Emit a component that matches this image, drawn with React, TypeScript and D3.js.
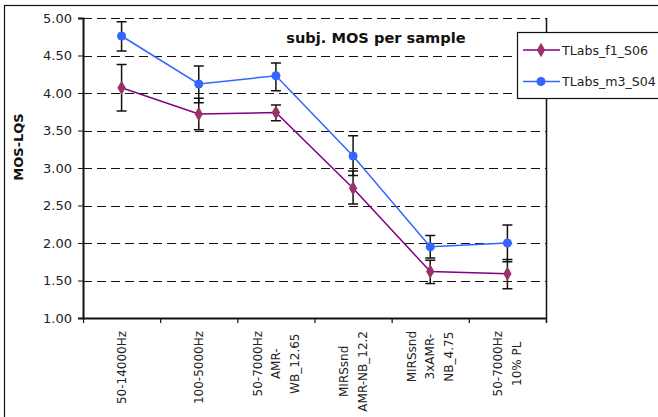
import * as d3 from 'd3';
import { useEffect, useRef } from 'react';

const categories = [
  ['50-14000Hz'],
  ['100-5000Hz'],
  ['50-7000Hz', 'AMR-', 'WB_12.65'],
  ['MIRSsnd', 'AMR-NB_12.2'],
  ['MIRSsnd', '3xAMR-', 'NB_4.75'],
  ['50-7000Hz', '10% PL'],
];

const f1Mean = [4.07, 3.72, 3.74, 2.73, 1.62, 1.59];
const f1Low = [3.76, 3.51, 3.63, 2.52, 1.46, 1.39];
const f1High = [4.38, 3.93, 3.84, 2.96, 1.77, 1.78];

const m3Mean = [4.76, 4.12, 4.23, 3.16, 1.95, 2.0];
const m3Low = [4.56, 3.87, 4.03, 2.9, 1.8, 1.75];
const m3High = [4.95, 4.36, 4.4, 3.43, 2.1, 2.24];

const yTicks = [1.0, 1.5, 2.0, 2.5, 3.0, 3.5, 4.0, 4.5, 5.0];

const title = 'subj. MOS per sample';
const yAxisLabel = 'MOS-LQS';
const names = ['TLabs_f1_S06', 'TLabs_m3_S04'];

const W = 658;
const H = 417;
const plot = { left: 83, right: 546, top: 18, bottom: 318 };
const font = "'DejaVu Sans', Verdana, sans-serif";

const purpleLine = '#800080';
const purpleMark = '#993366';
const blue = '#3366ff';

export default function App() {
  const ref = useRef<SVGSVGElement>(null);

  useEffect(() => {
    const svg = d3.select(ref.current);
    svg.selectAll('*').remove();

    const x = d3
      .scaleBand<number>()
      .domain(categories.map((_, i) => i))
      .range([plot.left, plot.right]);
    const y = d3.scaleLinear().domain([1, 5]).range([plot.bottom, plot.top]);
    const cx = (i: number) => x(i)! + x.bandwidth() / 2;

    svg.append('rect').attr('width', W).attr('height', H).attr('fill', '#fff');

    // outer chart frame (runs past the right and bottom edges)
    svg
      .append('rect')
      .attr('x', 4.5)
      .attr('y', 5.5)
      .attr('width', 700)
      .attr('height', 500)
      .attr('fill', 'none')
      .attr('stroke', '#111')
      .attr('stroke-width', 1.2);

    // dashed gridlines
    svg
      .append('g')
      .selectAll('line')
      .data(yTicks.slice(1))
      .enter()
      .append('line')
      .attr('x1', plot.left)
      .attr('x2', plot.right)
      .attr('y1', (d) => Math.round(y(d)) + 0.5)
      .attr('y2', (d) => Math.round(y(d)) + 0.5)
      .attr('stroke', '#111')
      .attr('stroke-dasharray', '9,5');

    // right border of the plot area
    svg
      .append('line')
      .attr('x1', plot.right + 0.5)
      .attr('x2', plot.right + 0.5)
      .attr('y1', plot.top)
      .attr('y2', plot.bottom + 5)
      .attr('stroke', '#111')
      .attr('stroke-width', 1.5);

    // y axis
    const yAxis = svg
      .append('g')
      .attr('transform', `translate(${plot.left},0)`)
      .call(
        d3
          .axisLeft(y)
          .tickValues(yTicks)
          .tickFormat(d3.format('.2f'))
          .tickSize(5)
          .tickPadding(6)
      );
    yAxis.select('.domain').attr('stroke', '#111').attr('stroke-width', 2);
    yAxis.selectAll('.tick line').attr('stroke', '#111');
    yAxis
      .selectAll('.tick text')
      .attr('fill', '#222')
      .style('font-family', font)
      .style('font-size', '13px');

    // x axis: ticks at category boundaries
    svg
      .append('line')
      .attr('x1', plot.left)
      .attr('x2', plot.right + 1)
      .attr('y1', plot.bottom + 0.5)
      .attr('y2', plot.bottom + 0.5)
      .attr('stroke', '#111')
      .attr('stroke-width', 2);
    svg
      .append('g')
      .selectAll('line')
      .data(categories.map((_, i) => i))
      .enter()
      .append('line')
      .attr('x1', (i) => x(i)! + 0.5)
      .attr('x2', (i) => x(i)! + 0.5)
      .attr('y1', plot.bottom)
      .attr('y2', plot.bottom + 5)
      .attr('stroke', '#111')
      .attr('stroke-width', 1.2);

    // rotated multi-line category labels
    const lineGap = 18.5;
    categories.forEach((lines, i) => {
      const g = svg.append('g');
      const texts = lines.map((l) =>
        g
          .append('text')
          .attr('text-anchor', 'middle')
          .attr('dy', '0.35em')
          .style('font-family', font)
          .style('font-size', '12px')
          .attr('fill', '#222')
          .text(l)
      );
      const maxLen = d3.max(texts, (t) => (t.node() as SVGTextElement).getComputedTextLength())!;
      const yc = 331 + maxLen / 2;
      texts.forEach((t, j) => {
        const xo = cx(i) + (j - (lines.length - 1) / 2) * lineGap;
        t.attr('transform', `translate(${xo},${yc}) rotate(-90)`);
      });
    });

    // series
    const series = [
      { mean: f1Mean, low: f1Low, high: f1High, line: purpleLine, mark: purpleMark, shape: d3.symbolDiamond, size: 60 },
      { mean: m3Mean, low: m3Low, high: m3High, line: blue, mark: blue, shape: d3.symbolCircle, size: 64 },
    ];

    const line = d3
      .line<number>()
      .x((_, i) => cx(i))
      .y((d) => y(d));

    series.forEach((s) => {
      svg
        .append('path')
        .datum(s.mean)
        .attr('d', line)
        .attr('fill', 'none')
        .attr('stroke', s.line)
        .attr('stroke-width', 1.5);
    });

    // error bars
    series.forEach((s) => {
      const eb = svg.append('g').attr('stroke', '#111').attr('stroke-width', 1.5);
      s.mean.forEach((_, i) => {
        const xc = cx(i);
        eb.append('line').attr('x1', xc).attr('x2', xc).attr('y1', y(s.low[i])).attr('y2', y(s.high[i]));
        [s.low[i], s.high[i]].forEach((v) => {
          eb.append('line').attr('x1', xc - 5).attr('x2', xc + 5).attr('y1', y(v)).attr('y2', y(v));
        });
      });
    });

    // markers
    series.forEach((s) => {
      svg
        .append('g')
        .selectAll('path')
        .data(s.mean)
        .enter()
        .append('path')
        .attr('d', d3.symbol().type(s.shape).size(s.size)())
        .attr('transform', (d, i) => `translate(${cx(i)},${y(d)})`)
        .attr('fill', s.mark);
    });

    // title
    svg
      .append('text')
      .attr('x', 376)
      .attr('y', 43)
      .attr('text-anchor', 'middle')
      .style('font-family', font)
      .style('font-size', '14.6px')
      .style('font-weight', 'bold')
      .attr('fill', '#111')
      .text(title);

    // y axis title
    svg
      .append('text')
      .attr('transform', `translate(23,147) rotate(-90)`)
      .attr('text-anchor', 'middle')
      .style('font-family', font)
      .style('font-size', '13px')
      .style('font-weight', 'bold')
      .attr('fill', '#111')
      .text(yAxisLabel);

    // legend
    const legend = svg.append('g');
    legend
      .append('rect')
      .attr('x', 517.5)
      .attr('y', 32.5)
      .attr('width', 200)
      .attr('height', 66)
      .attr('fill', '#fff')
      .attr('stroke', '#111')
      .attr('stroke-width', 1.2);
    series.forEach((s, i) => {
      const ly = 50 + i * 31.5;
      legend
        .append('line')
        .attr('x1', 523)
        .attr('x2', 560)
        .attr('y1', ly)
        .attr('y2', ly)
        .attr('stroke', s.line)
        .attr('stroke-width', 1.5);
      legend
        .append('path')
        .attr('d', d3.symbol().type(s.shape).size(s.size)())
        .attr('transform', `translate(541,${ly})`)
        .attr('fill', s.mark);
      legend
        .append('text')
        .attr('x', 562)
        .attr('y', ly)
        .attr('dy', '0.36em')
        .style('font-family', font)
        .style('font-size', '12.6px')
        .attr('fill', '#222')
        .text(names[i]);
    });
  }, []);

  return (
    <svg
      ref={ref}
      width={W}
      height={H}
      style={{ position: 'absolute', left: 0, top: 0, display: 'block' }}
    />
  );
}
